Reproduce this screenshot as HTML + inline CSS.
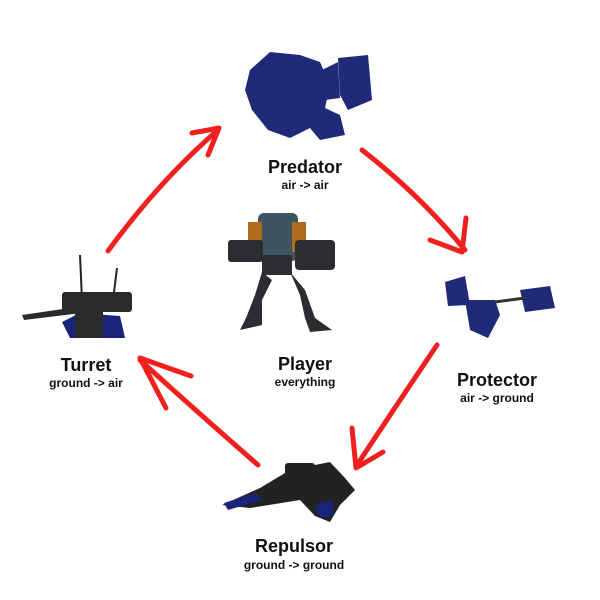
<!DOCTYPE html>
<html><head><style>
html,body{margin:0;padding:0;background:#fff;}
svg{display:block}
text{font-family:"Liberation Sans",sans-serif;font-weight:bold;fill:#111;text-anchor:middle}
.t{font-size:18px}.s{font-size:12px}
</style></head><body>
<svg width="600" height="600" viewBox="0 0 600 600">
<rect width="600" height="600" fill="#fff"/>
<!-- Predator -->
<g fill="#1f2a78">
<path d="M250 70 L270 52 L300 55 L320 62 L330 85 L325 108 L340 115 L345 135 L320 140 L310 128 L290 138 L268 130 L252 110 L245 90Z"/>
<path d="M322 70 L338 62 L340 98 L325 100Z"/>
<path d="M338 58 L368 55 L372 100 L348 110 L340 95Z"/>
</g>
<!-- Player -->
<g fill="#2b2d30">
<rect x="258" y="213" width="40" height="48" rx="6" fill="#3d5560"/>
<rect x="248" y="222" width="14" height="30" fill="#b06a20"/>
<rect x="292" y="222" width="14" height="30" fill="#b06a20"/>
<rect x="228" y="240" width="35" height="22" rx="3"/>
<rect x="295" y="240" width="40" height="30" rx="4"/>
<rect x="262" y="255" width="30" height="20"/>
<path d="M262 272 L255 295 L246 318 L240 330 L262 325 L262 300 L272 280Z"/>
<path d="M290 272 L300 295 L305 318 L310 332 L332 330 L315 318 L305 290Z"/>
</g>
<!-- Turret -->
<g fill="#2a2a2a">
<path d="M80 255 L82 300" stroke="#222" stroke-width="2"/>
<path d="M117 268 L113 300" stroke="#222" stroke-width="2"/>
<path d="M22 315 L90 305 L90 312 L24 320Z"/>
<rect x="62" y="292" width="70" height="20" rx="3"/>
<path d="M62 322 L80 313 L120 316 L125 338 L70 338Z" fill="#1a237a"/>
<rect x="75" y="310" width="28" height="28"/>
</g>
<!-- Protector -->
<g fill="#1f2a78">
<path d="M445 282 L465 276 L470 305 L448 306Z"/>
<path d="M465 300 L495 300 L500 315 L488 338 L470 330Z"/>
<path d="M520 290 L550 286 L555 308 L525 312Z"/>
<path d="M495 302 L525 298" stroke="#333" stroke-width="3"/>
</g>
<!-- Repulsor -->
<g fill="#222">
<path d="M222 505 L260 488 L290 470 L330 462 L345 478 L355 490 L340 505 L330 522 L315 516 L300 500 L250 508 Z"/>
<path d="M224 503 L255 493 L262 500 L228 510Z" fill="#1a237a"/>
<path d="M315 505 L332 500 L334 515 L320 518Z" fill="#1a237a"/>
<rect x="285" y="463" width="30" height="14" rx="3"/>
</g>
<!-- Arrows -->
<g fill="none" stroke="#f0201e" stroke-width="5" stroke-linecap="round" stroke-linejoin="round">
<path d="M108 251 Q160 180 218 130"/>
<path d="M192 133 L219 128 L208 155"/>
<path d="M362 150 Q420 195 465 250"/>
<path d="M430 240 L462 252 L466 218"/>
<path d="M437 345 Q400 400 357 465"/>
<path d="M352 428 L356 468 L383 452"/>
<path d="M258 465 Q195 410 140 360"/>
<path d="M191 376 L140 358 L166 408"/>
</g>
<text class="t" x="305" y="173">Predator</text>
<text class="s" x="305" y="189">air -&gt; air</text>
<text class="t" x="305" y="370">Player</text>
<text class="s" x="305" y="386">everything</text>
<text class="t" x="86" y="371">Turret</text>
<text class="s" x="86" y="387">ground -&gt; air</text>
<text class="t" x="497" y="386">Protector</text>
<text class="s" x="497" y="402">air -&gt; ground</text>
<text class="t" x="294" y="552">Repulsor</text>
<text class="s" x="294" y="569">ground -&gt; ground</text>
</svg>
</body></html>
